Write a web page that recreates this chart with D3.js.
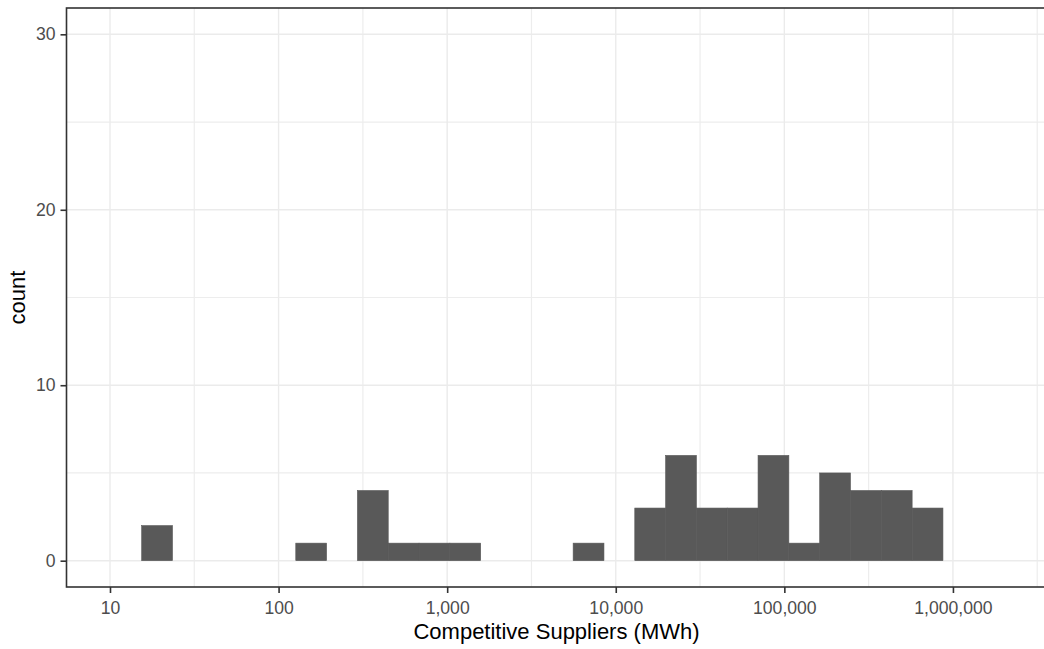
<!DOCTYPE html>
<html>
<head>
<meta charset="utf-8">
<script src="https://cdn.jsdelivr.net/npm/d3@7"></script>
<style>
  html, body { margin: 0; padding: 0; background: #ffffff; }
  svg { display: block; }
  text { font-family: "Liberation Sans", Arial, Helvetica, sans-serif; }
</style>
</head>
<body>
<svg id="chart" width="1044" height="649"></svg>
<script>
// Histogram of competitive supplier sales on a log10 axis.
// Bin layout (log10 MWh): first bin lower edge and bin width in decades.
const binStartLog10 = 1.188;
const binWidthLog10 = 0.1828;
// Number of suppliers per bin, left to right.
const binCounts = [2, 0, 0, 0, 0, 1, 0, 4, 1, 1, 1, 0, 0, 0, 1, 0, 3, 6, 3, 3, 6, 1, 5, 4, 4, 3];

const xTickValues = [10, 100, 1000, 10000, 100000, 1000000];
const xMinorValues = [Math.pow(10, 1.5), Math.pow(10, 2.5), Math.pow(10, 3.5), Math.pow(10, 4.5), Math.pow(10, 5.5), Math.pow(10, 6.5)];
const yTickValues = [0, 10, 20, 30];
const yMinorValues = [5, 15, 25];

const xTitle = "Competitive Suppliers (MWh)";
const yTitle = "count";

const svg = d3.select("#chart");

// panel box
const panel = { left: 66.5, right: 1046.5, top: 8, bottom: 587 };

const x = d3.scaleLog()
  .domain([Math.pow(10, 0.742), Math.pow(10, 6.555)])
  .range([panel.left, panel.right]);

const y = d3.scaleLinear()
  .domain([-1.5, 31.5])
  .range([panel.bottom, panel.top]);

const bins = binCounts.map((c, i) => ({
  x0: Math.pow(10, binStartLog10 + i * binWidthLog10),
  x1: Math.pow(10, binStartLog10 + (i + 1) * binWidthLog10),
  count: c
}));

// clip everything inside the panel
svg.append("defs").append("clipPath").attr("id", "panel-clip")
  .append("rect")
  .attr("x", panel.left).attr("y", panel.top)
  .attr("width", panel.right - panel.left)
  .attr("height", panel.bottom - panel.top);

const g = svg.append("g").attr("clip-path", "url(#panel-clip)");

// panel background
g.append("rect")
  .attr("x", panel.left).attr("y", panel.top)
  .attr("width", panel.right - panel.left)
  .attr("height", panel.bottom - panel.top)
  .attr("fill", "#ffffff");

// minor grid
g.selectAll(".xminor").data(xMinorValues).enter().append("line")
  .attr("x1", d => x(d)).attr("x2", d => x(d))
  .attr("y1", panel.top).attr("y2", panel.bottom)
  .attr("stroke", "#EDEDED").attr("stroke-width", 1.2);
g.selectAll(".yminor").data(yMinorValues).enter().append("line")
  .attr("x1", panel.left).attr("x2", panel.right)
  .attr("y1", d => y(d)).attr("y2", d => y(d))
  .attr("stroke", "#EDEDED").attr("stroke-width", 1.2);

// major grid
g.selectAll(".xmajor").data(xTickValues).enter().append("line")
  .attr("x1", d => x(d)).attr("x2", d => x(d))
  .attr("y1", panel.top).attr("y2", panel.bottom)
  .attr("stroke", "#EBEBEB").attr("stroke-width", 1.4);
g.selectAll(".ymajor").data(yTickValues).enter().append("line")
  .attr("x1", panel.left).attr("x2", panel.right)
  .attr("y1", d => y(d)).attr("y2", d => y(d))
  .attr("stroke", "#EBEBEB").attr("stroke-width", 1.4);

// bars
g.selectAll(".bar").data(bins.filter(b => b.count > 0)).enter().append("rect")
  .attr("class", "bar")
  .attr("x", d => x(d.x0))
  .attr("width", d => x(d.x1) - x(d.x0))
  .attr("y", d => y(d.count))
  .attr("height", d => y(0) - y(d.count))
  .attr("fill", "#595959")
  .attr("stroke", "#595959")
  .attr("stroke-width", 0.6);

// panel border
svg.append("rect")
  .attr("x", panel.left).attr("y", panel.top)
  .attr("width", panel.right - panel.left)
  .attr("height", panel.bottom - panel.top)
  .attr("fill", "none")
  .attr("stroke", "#333333")
  .attr("stroke-width", 1.6);

// axes
const xAxis = d3.axisBottom(x)
  .tickValues(xTickValues)
  .tickFormat(d3.format(","))
  .tickSize(6)
  .tickPadding(4);

const yAxis = d3.axisLeft(y)
  .tickValues(yTickValues)
  .tickFormat(d3.format("d"))
  .tickSize(6)
  .tickPadding(5);

const gx = svg.append("g")
  .attr("transform", `translate(0,${panel.bottom})`)
  .call(xAxis);
const gy = svg.append("g")
  .attr("transform", `translate(${panel.left},0)`)
  .call(yAxis);

[gx, gy].forEach(a => {
  a.select(".domain").remove();
  a.selectAll(".tick line").attr("stroke", "#333333").attr("stroke-width", 1.6);
  a.selectAll(".tick text")
    .attr("fill", "#4D4D4D")
    .style("font-size", "17.6px")
    .style("font-family", "'Liberation Sans', Arial, sans-serif");
});
gx.selectAll(".tick text").attr("dy", null).attr("y", 26.5);

// axis titles
svg.append("text")
  .attr("x", (panel.left + panel.right) / 2)
  .attr("y", 638.5)
  .attr("text-anchor", "middle")
  .attr("fill", "#000000")
  .style("font-size", "22px")
  .text(xTitle);

svg.append("text")
  .attr("transform", `translate(25,${(panel.top + panel.bottom) / 2}) rotate(-90)`)
  .attr("text-anchor", "middle")
  .attr("fill", "#000000")
  .style("font-size", "22px")
  .text(yTitle);
</script>
</body>
</html>
